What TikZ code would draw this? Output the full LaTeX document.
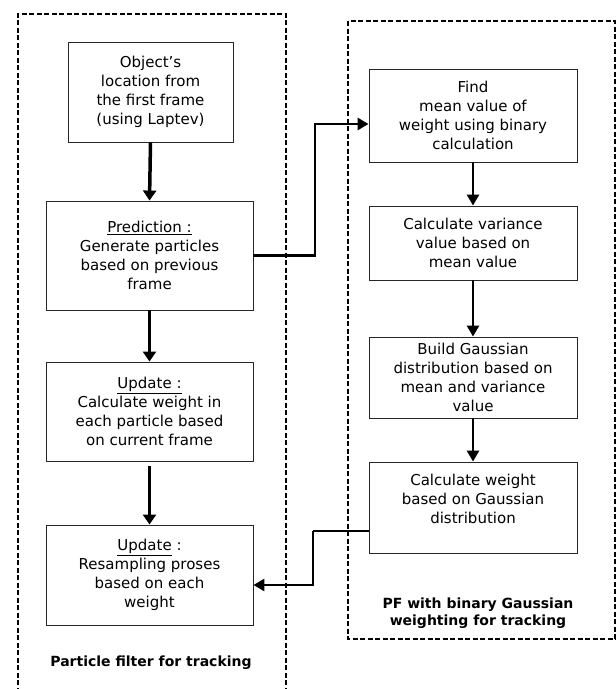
\documentclass[tikz,border=0pt]{standalone}
\usepackage{fontspec}
\setmainfont{DejaVu Sans}
\usetikzlibrary{arrows.meta}
\begin{document}
\begin{tikzpicture}[x=1pt,y=-1pt,
  box/.style={draw=black!85,line width=0.9pt,inner sep=0pt,align=center,
    font=\fontsize{15}{19}\selectfont},
  grp/.style={draw=black,line width=2pt,dash pattern=on 5pt off 2.5pt},
  arr/.style={line width=3.5pt,-{Triangle[width=13pt,length=10pt]}},
  arrs/.style={line width=2.8pt,-{Triangle[width=12pt,length=11pt]}},
  lbl/.style={font=\fontsize{14}{17}\selectfont\bfseries,align=center}]
\useasboundingbox (0,0) rectangle (616,689);
% groups
\draw[grp] (18,700) -- (18,14) -- (286,14) -- (286,700);
\draw[grp] (348,21) rectangle (615,639);
% left column
\node[box,minimum width=165pt,minimum height=100pt] (B1) at (150.5,92)
  {Object's\\location from\\the first frame\\(using Laptev)};
\node[box,minimum width=207pt,minimum height=109pt] (B2) at (149.5,255.5)
  {\underline{Prediction :}\\Generate particles\\based on previous\\frame};
\node[box,minimum width=207pt,minimum height=99pt] (B3) at (149.5,411.5)
  {\underline{Update :}\\Calculate weight in\\each particle based\\on current frame};
\node[box,minimum width=207pt,minimum height=100pt] (B4) at (149.5,575)
  {\underline{Update} :\\Resampling proses\\based on each\\weight};
\node[lbl] (L1) at (151,663) {Particle filter for tracking};
% right column
\node[box,minimum width=208pt,minimum height=93pt] (R1) at (473,115.5)
  {Find\\mean value of\\weight using binary\\calculation};
\node[box,minimum width=208pt,minimum height=74pt] (R2) at (473,243)
  {Calculate variance\\value based on\\mean value};
\node[box,minimum width=208pt,minimum height=81pt] (R3) at (473,377.5)
  {Build Gaussian\\distribution based on\\mean and variance\\value};
\node[box,minimum width=208pt,minimum height=91pt] (R4) at (473,507.5) {};
\node[box,draw=none] (R4t) at (473,499)
  {Calculate weight\\based on Gaussian\\distribution};
\node[lbl] (L2) at (478,613) {PF with binary Gaussian\\weighting for tracking};
% arrows
\draw[arr] (B1.south) -- (B2.north);
\draw[arr] (B2.south) -- (B3.north);
\draw[arr] ([yshift=-5pt]B3.south) -- (B4.north);
\draw[arrs] (R1.south) -- (R2.north);
\draw[arrs] (R2.south) -- (R3.north);
\draw[arrs] (R3.south) -- (R4.north);
\coordinate (j1) at (315,255.5);
\coordinate (j2) at (315,124);
\draw[arrs] (B2.east) -- (j1) -- (j2) -- (R1.west |- j2);
\coordinate (j3) at (313,531);
\coordinate (j4) at (313,585);
\draw[line width=1.5pt] (R4.west |- j3) -- (j3);
\draw[arrs] (j3) -- (j4) -- (B4.east |- j4);
\end{tikzpicture}
\end{document}
